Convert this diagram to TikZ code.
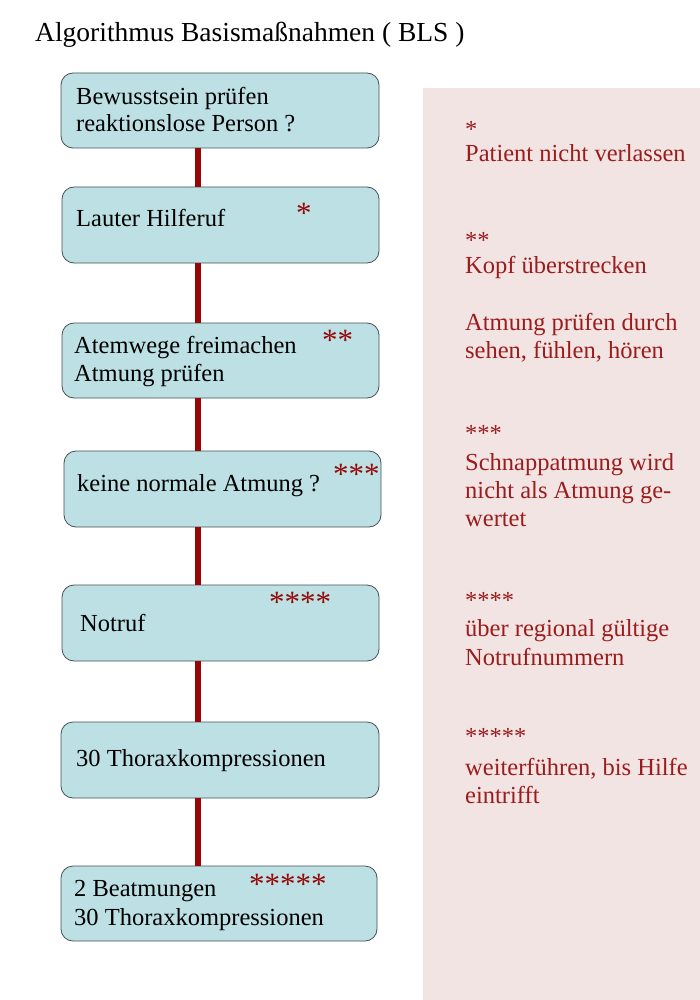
\documentclass[tikz,border=0pt]{standalone}
\usepackage{fontspec}
\setmainfont{Liberation Serif}
\definecolor{boxfill}{RGB}{189,224,228}
\definecolor{boxline}{RGB}{70,80,85}
\definecolor{linkred}{RGB}{150,8,8}
\definecolor{panel}{RGB}{243,228,228}
\definecolor{notered}{RGB}{155,28,28}
\tikzset{
  stepbox/.style={draw=boxline, line width=0.8pt, fill=boxfill, rounded corners=12pt, inner sep=0pt},
  boxtext/.style={anchor=base west, inner sep=0pt, font=\fontsize{24.5}{28}\selectfont, text=black},
  boxstar/.style={anchor=base west, inner sep=0pt, font=\fontsize{31}{34}\selectfont, text=linkred},
  notetext/.style={anchor=base west, inner sep=0pt, font=\fontsize{24.5}{28}\selectfont, text=notered},
  link/.style={draw=linkred, line width=6pt},
}
\begin{document}
\begin{tikzpicture}[x=1pt,y=-1pt]
\useasboundingbox (0,0) rectangle (700,1000);
\fill[white] (0,0) rectangle (700,1000);
% right panel
\fill[panel] (423,88) rectangle (700,1000);
% title
\node[boxtext, font=\fontsize{27.5}{30}\selectfont] (title) at (35,42) {Algorithmus Basismaßnahmen ( BLS )};
% boxes
\node[stepbox, minimum width=318pt, minimum height=75pt] (b1) at (220,110.5) {};
\node[stepbox, minimum width=317pt, minimum height=76pt] (b2) at (220.5,225) {};
\node[stepbox, minimum width=317pt, minimum height=75pt] (b3) at (220.5,360.5) {};
\node[stepbox, minimum width=317pt, minimum height=76pt] (b4) at (222.5,489) {};
\node[stepbox, minimum width=317pt, minimum height=76pt] (b5) at (220.5,623) {};
\node[stepbox, minimum width=318pt, minimum height=76pt] (b6) at (220,760) {};
\node[stepbox, minimum width=316pt, minimum height=75pt] (b7) at (219,903.5) {};
% connectors
\draw[link] ([xshift=137pt]b1.south west) -- ([xshift=136pt]b2.north west);
\draw[link] ([xshift=136pt]b2.south west) -- ([xshift=136pt]b3.north west);
\draw[link] ([xshift=136pt]b3.south west) -- ([xshift=134pt]b4.north west);
\draw[link] ([xshift=134pt]b4.south west) -- ([xshift=136pt]b5.north west);
\draw[link] ([xshift=136pt]b5.south west) -- ([xshift=137pt]b6.north west);
\draw[link] ([xshift=137pt]b6.south west) -- ([xshift=137pt]b7.north west);
% box texts
\node[boxtext] (t1a) at (76,105) {Bewusstsein prüfen};
\node[boxtext] (t1b) at (76,132) {reaktionslose Person ?};
\node[boxtext] (t2) at (76,227) {Lauter Hilferuf};
\node[boxstar] (s2) at (296,224) {*};
\node[boxtext] (t3a) at (74,353) {Atemwege freimachen};
\node[boxtext] (t3b) at (74,381.5) {Atmung prüfen};
\node[boxstar] (s3) at (322,350) {**};
\node[boxtext] (t4) at (77,491.5) {keine normale Atmung ?};
\node[boxstar] (s4) at (333,484) {***};
\node[boxtext] (t5) at (80,631.5) {Notruf};
\node[boxstar] (s5) at (269,612) {****};
\node[boxtext] (t6) at (76,766.5) {30 Thoraxkompressionen};
\node[boxtext] (t7a) at (74,896.5) {2 Beatmungen};
\node[boxtext] (t7b) at (74,925) {30 Thoraxkompressionen};
\node[boxstar] (s7) at (249,894) {*****};
% notes
\node[notetext] (n1s) at (465,138) {*};
\node[notetext] (n1) at (465,161.5) {Patient nicht verlassen};
\node[notetext] (n2s) at (465,248) {**};
\node[notetext] (n2) at (465,273) {Kopf überstrecken};
\node[notetext] (n2b) at (465,330) {Atmung prüfen durch};
\node[notetext] (n2c) at (465,358) {sehen, fühlen, hören};
\node[notetext] (n3s) at (465,441) {***};
\node[notetext] (n3a) at (465,470) {Schnappatmung wird};
\node[notetext] (n3b) at (465,498) {nicht als Atmung ge-};
\node[notetext] (n3c) at (465,526.5) {wertet};
\node[notetext] (n4s) at (465,608) {****};
\node[notetext] (n4a) at (465,636.5) {über regional gültige};
\node[notetext] (n4b) at (465,665) {Notrufnummern};
\node[notetext] (n5s) at (465,744.5) {*****};
\node[notetext] (n5a) at (465,775) {weiterführen, bis Hilfe};
\node[notetext] (n5b) at (465,803) {eintrifft};
\end{tikzpicture}
\end{document}
